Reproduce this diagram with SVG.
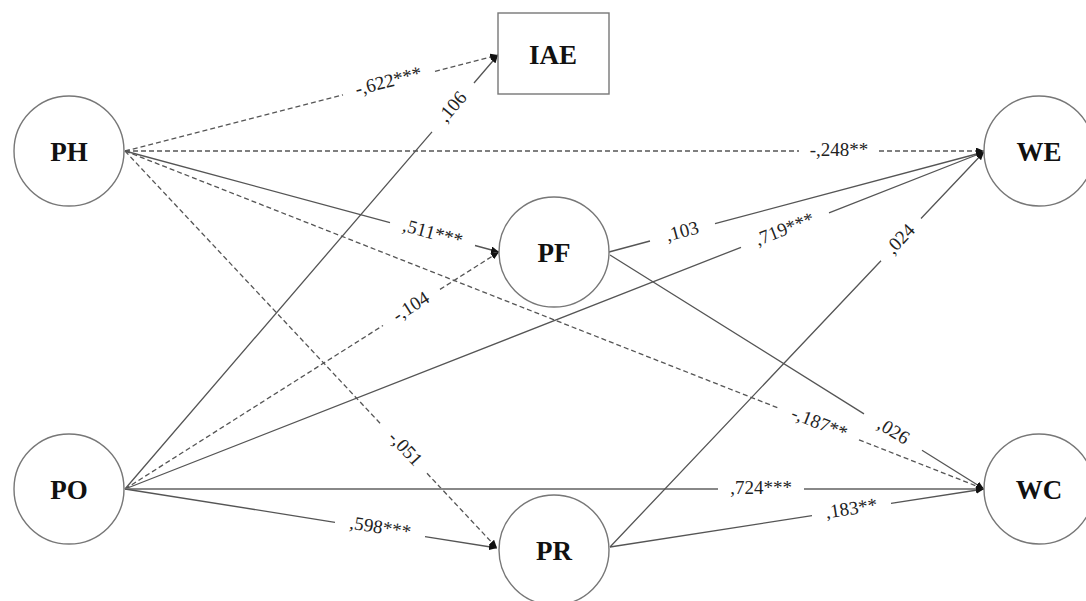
<svg xmlns="http://www.w3.org/2000/svg" width="1086" height="601" viewBox="0 0 1086 601">
<style>
.node{fill:#fff;stroke:#777;stroke-width:1.4}
.nl{font-family:"Liberation Serif","Times New Roman",serif;font-weight:bold;font-size:27px;fill:#111;text-anchor:middle}
.e{fill:none;stroke:#555;stroke-width:1.3;marker-end:url(#ah)}
.d{stroke-dasharray:5,3}
.dbl{stroke:#888;stroke-width:1.9}
.el{font-family:"Liberation Serif","Times New Roman",serif;font-size:19px;fill:#222;text-anchor:middle}
</style>
<defs>
<marker id="ah" markerUnits="userSpaceOnUse" markerWidth="9" markerHeight="7" refX="8" refY="3.5" orient="auto">
<path d="M0,0 L8,3.5 L0,7 z" fill="#111" stroke="none"/>
</marker>
</defs>
<rect width="1086" height="601" fill="#fff"/>
<g id="connectors">
<path class="e d" d="M125,151 L343,94.9 M435,71.3 L498,55"/>
<path class="e" d="M125,489 L432,131.8 M474,83 L498,55"/>
<path class="e d" d="M125,151 L799,151 M879,151 L984,151"/>
<path class="e" d="M125,151 L390,222.6 M475,245.5 L499,252"/>
<path class="e d" d="M125,151 L779,408.3 M859,439.8 L984,489"/>
<path class="e d" d="M125,151 L382,425.3 M427,473.3 L497,548"/>
<path class="e d" d="M125,489 L383,325.5 M440,289.4 L499,252"/>
<path class="e" d="M125,489 L741,247.3 M829,212.8 L984,152"/>
<path class="e dbl" d="M125,489 L718,489 M804,489 L984,489"/>
<path class="e" d="M125,489 L335,522.3 M425,536.6 L497,548"/>
<path class="e" d="M609,252 L650,241 M715,223.7 L984,152"/>
<path class="e" d="M610,255 L864,413.9 M922,450.2 L984,489"/>
<path class="e" d="M610,547 L881,260.8 M921,218.5 L984,152"/>
<path class="e" d="M610,547 L812,515.7 M891,503.4 L984,489"/>
<g id="edge-labels">
<text class="el" transform="translate(389,83.1) rotate(-14.43)" y="4">-,622***</text>
<text class="el" transform="translate(453,107.5) rotate(-49.33)" y="5">,106</text>
<text class="el" transform="translate(839,151)" y="5">-,248**</text>
<text class="el" transform="translate(432.5,234) rotate(15.11)" y="5">,511***</text>
<text class="el" transform="translate(819,424) rotate(21.48)" y="5">-,187**</text>
<text class="el" transform="translate(404.5,449.3) rotate(46.86)" y="5">-,051</text>
<text class="el" transform="translate(411.5,307.5) rotate(-32.36)" y="5">-,104</text>
<text class="el" transform="translate(785,230.1) rotate(-21.42)" y="5">,719***</text>
<text class="el" transform="translate(761,489)" y="5">,724***</text>
<text class="el" transform="translate(380,529.4) rotate(9.01)" y="4">,598***</text>
<text class="el" transform="translate(682.5,232.4) rotate(-14.93)" y="5">,103</text>
<text class="el" transform="translate(893,432) rotate(32.03)" y="5">,026</text>
<text class="el" transform="translate(901,239.7) rotate(-46.56)" y="5">,024</text>
<text class="el" transform="translate(851.5,509.6) rotate(-8.82)" y="5">,183**</text>
</g>
</g>
<g id="node-PH"><circle class="node" cx="69" cy="151" r="55"/><text class="nl" x="69" y="161">PH</text></g>
<g id="node-PO"><circle class="node" cx="69" cy="489" r="55"/><text class="nl" x="69" y="499">PO</text></g>
<g id="node-IAE"><rect class="node" x="498" y="13" width="111" height="81"/><text class="nl" x="553" y="64">IAE</text></g>
<g id="node-PF"><circle class="node" cx="554" cy="252" r="55"/><text class="nl" x="554" y="262">PF</text></g>
<g id="node-PR"><circle class="node" cx="554" cy="550" r="55"/><text class="nl" x="554" y="560">PR</text></g>
<g id="node-WE"><circle class="node" cx="1039" cy="151" r="55"/><text class="nl" x="1039" y="161">WE</text></g>
<g id="node-WC"><circle class="node" cx="1039" cy="489" r="55"/><text class="nl" x="1039" y="499">WC</text></g>
</svg>
